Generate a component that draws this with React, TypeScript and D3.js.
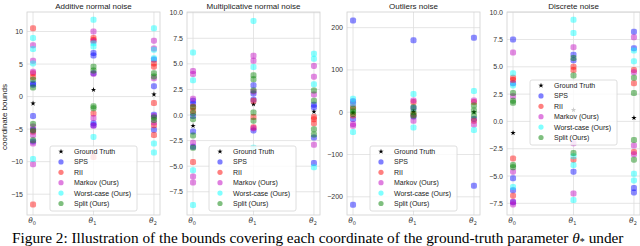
import React, { useEffect, useRef } from 'react';
import * as d3 from 'd3';

// panel titles and axis ticks
const titles = ['Additive normal noise', 'Multiplicative normal noise', 'Outliers noise', 'Discrete noise'];
const yTicks = [
  [-15, -10, -5, 0, 5, 10],
  [-7.5, -5, -2.5, 0, 2.5, 5, 7.5, 10],
  [-200, -100, 0, 100, 200],
  [-7.5, -5, -2.5, 0, 2.5, 5, 7.5, 10],
];
const yDomains = [
  [-18.2, 13.0],
  [-9.77, 10.07],
  [-243, 237],
  [-8.57, 10.02],
];
const coords = ['0', '1', '2'];
const legendNames = ['Ground Truth', 'SPS', 'RII', 'Markov (Ours)', 'Worst-case (Ours)', 'Split (Ours)'];

const truth = [-1.05, 1.05, 0.33];

// bounds per method, one list per coordinate
const additiveSPS = [[2.0, 1.8, -3.0, -5.1, -6.9], [6.7, 6.3, 3.6, -4.1, -4.4], [5.7, 1.6, -2.8, -5.1]];
const additiveRII = [[10.5, 3.6, 3.0, -5.4, -16.6], [9.0, 8.7, -2.6, -9.3], [5.1, 4.6, -1.0, -4.4, -5.9]];
const additiveMarkov = [[7.9, 5.5, 3.8, -4.6, -5.9, -7.2, -10.4], [10.0, 8.5, 3.5, -3.3, -4.5], [8.6, 7.4, 2.8, -3.0, -4.0]];
const additiveWorst = [[9.0, 7.3, 5.1, -9.6], [11.8, 7.7, 8.2, -6.2], [10.5, 7.2, 5.9, -7.2, -8.6]];
const additiveSplit = [[1.4, 2.6, -4.2, -5.2, -6.7], [4.6, 4.0, -1.5, -1.8], [3.6, 3.1, -3.6, -3.2]];

const multSPS = [[1.4, 1.1, -0.1, -1.6, -3.1], [2.9, 2.1, 1.5, -1.5], [0.75, 1.0, -2.2, -4.7]];
const multRII = [[0.4, 0.8, -4.6], [1.4, -0.2, -1.2], [-0.4, -0.8, -0.2]];
const multMarkov = [[4.3, 4.0, 1.6, -2.7, -6.0, -6.6], [5.8, 5.3, 2.3, -1.3], [4.8, 3.75, 2.0, -2.9]];
const multWorst = [[6.1, 3.4, -5.4, -8.8], [9.2, 4.7, -3.2], [6.0, 5.5, 3.0, -5.1]];
const multSplit = [[0.75, 0.2, -0.4, -2.0, -3.2], [3.9, 3.5, 2.4, 0.25, -0.55], [2.4, 1.4, -1.4, -1.9]];

const outSPS = [[217, 26, -16, -219], [170, 10, -10], [176, -16, -174]];
const outRII = [[12, -8], [24, -6], [24, -20]];
const outMarkov = [[20, -28, -32], [28, -20], [28, -29]];
const outWorst = [[32, 20, -47], [43, -36], [50, -42]];
const outSplit = [[8, -4, 2], [12, 0, -8], [16, 4, -8]];

const discSPS = [[7.5, 3.5, -5.2, -6.3, -7.4], [6.1, 5.6, -4.6], [8.2, 6.7, -6.1, -6.5]];
const discRII = [[4.0, 3.8, -3.4, -6.8], [5.0, 4.7, -3.5], [4.7, 3.5, -2.8]];
const discMarkov = [[6.3, 2.3, -4.6, -7.35, -7.6], [6.8, -2.0, -6.6], [7.7, 4.5, -2.2, -3.0]];
const discWorst = [[4.4, 3.3, -6.0], [9.3, 8.1, -3.2, -4.0, -7.2], [6.5, 5.5, -4.8, -5.4]];
const discSplit = [[2.6, 1.9, 1.7, -4.0, -4.2], [5.8, 4.2, -2.9], [2.6, 4.0, -1.7, -3.5]];

const panels = [
  [additiveSPS, additiveRII, additiveMarkov, additiveWorst, additiveSplit],
  [multSPS, multRII, multMarkov, multWorst, multSplit],
  [outSPS, outRII, outMarkov, outWorst, outSplit],
  [discSPS, discRII, discMarkov, discWorst, discSplit],
];

const colors = ['#0000ff', '#ff0000', '#bf00bf', '#00ffff', '#008000'];

const W = 640;
const H = 246;
const axLeft = [27, 187, 347, 507];
const axWidth = 133;
const top = 12;
const bottom = 215;
const legendPos = [
  [50, 146],
  [209, 146],
  [370, 146],
  [530, 80],
];

const App = () => {
  const ref = useRef<SVGSVGElement>(null);

  useEffect(() => {
    const svg = d3.select(ref.current);
    svg.selectAll('*').remove();
    const font = 'Liberation Sans, Arial, sans-serif';
    const star = d3.symbol().type(d3.symbolStar).size(9);

    panels.forEach((series, p) => {
      const x = d3.scaleLinear().domain([-0.1, 2.1]).range([axLeft[p], axLeft[p] + axWidth]);
      const y = d3.scaleLinear().domain(yDomains[p]).range([bottom, top]);
      const g = svg.append('g');

      g.append('rect')
        .attr('x', axLeft[p]).attr('y', top)
        .attr('width', axWidth).attr('height', bottom - top)
        .attr('fill', 'white');

      // grid
      g.selectAll('line.hg').data(yTicks[p]).enter().append('line')
        .attr('x1', axLeft[p]).attr('x2', axLeft[p] + axWidth)
        .attr('y1', d => y(d)).attr('y2', d => y(d))
        .attr('stroke', '#dedede').attr('stroke-width', 0.8);
      g.selectAll('line.vg').data([0, 1, 2]).enter().append('line')
        .attr('x1', d => x(d)).attr('x2', d => x(d))
        .attr('y1', top).attr('y2', bottom)
        .attr('stroke', '#dedede').attr('stroke-width', 0.8);

      g.append('rect')
        .attr('x', axLeft[p]).attr('y', top)
        .attr('width', axWidth).attr('height', bottom - top)
        .attr('fill', 'none').attr('stroke', '#d0d0d0').attr('stroke-width', 0.8);

      // y tick labels
      const fmt = p === 1 || p === 3 ? d3.format('.1f') : d3.format('d');
      g.selectAll('text.yt').data(yTicks[p]).enter().append('text')
        .attr('x', axLeft[p] - 4).attr('y', d => y(d) + 2.5)
        .attr('text-anchor', 'end')
        .attr('font-family', font).attr('font-size', 7)
        .attr('fill', '#333')
        .text(d => fmt(d).replace('-', '\u2212'));

      // x tick labels
      coords.forEach((c, i) => {
        const t = g.append('text')
          .attr('x', x(i) - 1).attr('y', 223)
          .attr('text-anchor', 'middle')
          .attr('font-family', 'DejaVu Sans, sans-serif').attr('font-size', 7.5)
          .attr('fill', '#333');
        t.append('tspan').attr('font-style', 'italic').text('\u03b8');
        t.append('tspan').attr('font-size', 5).attr('dy', 1.5).text(c);
      });

      // title
      g.append('text')
        .attr('x', axLeft[p] + axWidth / 2).attr('y', 8.5)
        .attr('text-anchor', 'middle')
        .attr('font-family', font).attr('font-size', 8)
        .attr('fill', '#222')
        .text(titles[p]);

      // ground truth
      g.selectAll('path.gt').data(truth).enter().append('path')
        .attr('d', star)
        .attr('transform', (d, i) => `translate(${x(i)},${y(d)})`)
        .attr('fill', 'black');

      // bounds
      series.forEach((method, m) => {
        method.forEach((vals, i) => {
          g.selectAll(null).data(vals).enter().append('rect')
            .attr('x', x(i) - 3).attr('y', d => y(d) - 3)
            .attr('width', 6).attr('height', 6).attr('rx', 1.8)
            .attr('fill', colors[m]).attr('fill-opacity', 0.45);
        });
      });

      // legend
      const [lx, ly] = legendPos[p];
      const lg = g.append('g').attr('transform', `translate(${lx},${ly})`);
      lg.append('rect')
        .attr('width', 87).attr('height', 65).attr('rx', 2)
        .attr('fill', 'white').attr('fill-opacity', 0.8)
        .attr('stroke', '#d5d5d5').attr('stroke-width', 0.8);
      legendNames.forEach((name, k) => {
        const ry = 5.5 + k * 10.4;
        if (k === 0) {
          lg.append('path').attr('d', star).attr('transform', `translate(11,${ry})`).attr('fill', 'black');
        } else {
          lg.append('circle').attr('cx', 11).attr('cy', ry).attr('r', 2.6)
            .attr('fill', colors[k - 1]).attr('fill-opacity', 0.5);
        }
        lg.append('text').attr('x', 24).attr('y', ry + 2.5)
          .attr('font-family', font).attr('font-size', 7)
          .attr('fill', '#222').text(name);
      });
    });

    // y label
    svg.append('text')
      .attr('transform', `translate(7,117) rotate(-90)`)
      .attr('text-anchor', 'middle')
      .attr('font-family', font).attr('font-size', 8)
      .attr('fill', '#222')
      .text('coordinate bounds');

    // caption
    const cap = svg.append('text')
      .attr('x', 12).attr('y', 243)
      .attr('font-family', 'Liberation Serif, Times New Roman, serif').attr('font-size', 15.3)
      .attr('fill', 'black');
    cap.append('tspan').text('Figure 2: Illustration of the bounds covering each coordinate of the ground-truth parameter ');
    cap.append('tspan').attr('font-style', 'italic').text('\u03b8');
    cap.append('tspan').attr('font-size', 10).attr('dy', 2).text('*');
    cap.append('tspan').attr('dy', -2).text(' under');
  }, []);

  return (
    <div style={{ position: 'absolute', left: 0, top: 0 }}>
      <svg ref={ref} width={W} height={H} style={{ display: 'block', background: 'white' }} />
    </div>
  );
};

export default App;
